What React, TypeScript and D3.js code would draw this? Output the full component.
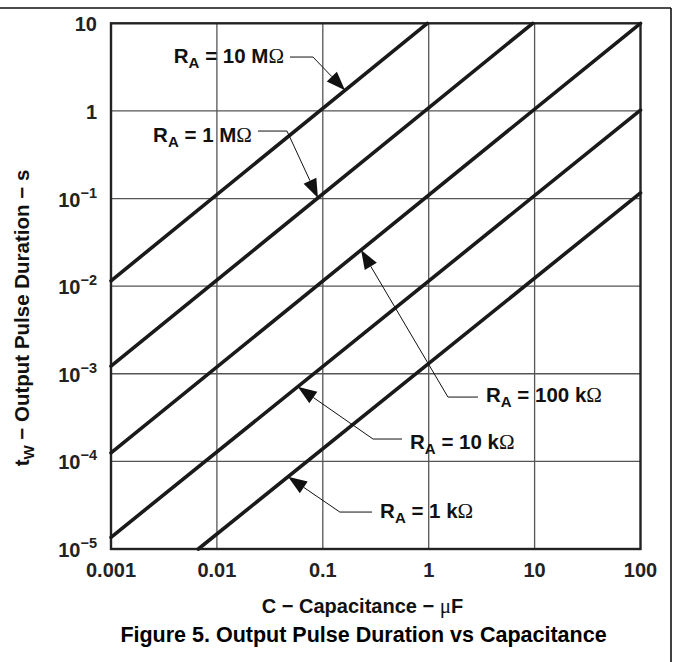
import React from "react";
import * as d3 from "d3";

// ---- data ----
const xTicks = [0.001, 0.01, 0.1, 1, 10, 100];
const xTickLabels = ["0.001", "0.01", "0.1", "1", "10", "100"];
const yTicks = [1e-5, 1e-4, 1e-3, 1e-2, 1e-1, 1, 10];
const yTickBase = ["10", "10", "10", "10", "10", "1", "10"];
const yTickExp = ["−5", "−4", "−3", "−2", "−1", "", ""];

const seriesNames = ["10 MΩ", "1 MΩ", "100 kΩ", "10 kΩ", "1 kΩ"];
const lineStartC = [0.001, 0.001, 0.001, 0.001, 0.00667];
const lineStartT = [0.0115, 0.00122, 0.000125, 0.0000136, 0.00001];
const lineEndC = [0.97, 9.6, 100, 100, 100];
const lineEndT = [10, 10, 10, 1.02, 0.116];

// annotation anchors (data coordinates)
const tipC = [0.162, 0.09, 0.23, 0.058, 0.047];
const elbowC = [0.0808, 0.0459, 1.52, 0.298, 0.145];
const elbowT = [4.12, 0.589, 0.000542, 0.00018, 0.0000264];
const leaderEndC = [0.049, 0.0244, 2.92, 0.56, 0.292];
const labelSide = ["left", "left", "right", "right", "right"];
const labelBaselineT = [3.55, 0.4416, 0.000475, 0.000138, 0.0000225];

const W = 673;
const H = 662;
const left = 111;
const right = 640.5;
const top = 23.3;
const bottom = 549;

const FONT = "'Liberation Sans', Arial, Helvetica, sans-serif";
const SYM = "'Liberation Serif', 'DejaVu Serif', serif";

export default function App() {
  const x = d3.scaleLog().domain([0.001, 100]).range([left, right]);
  const y = d3.scaleLog().domain([1e-5, 10]).range([bottom, top]);
  const line = d3
    .line<[number, number]>()
    .x((d) => x(d[0]))
    .y((d) => y(d[1]));

  const tipT = (i: number, c: number) => {
    const lc0 = Math.log10(lineStartC[i]);
    const lc1 = Math.log10(lineEndC[i]);
    const lt0 = Math.log10(lineStartT[i]);
    const lt1 = Math.log10(lineEndT[i]);
    const f = (Math.log10(c) - lc0) / (lc1 - lc0);
    return Math.pow(10, lt0 + f * (lt1 - lt0));
  };

  return (
    <svg
      width={W}
      height={H}
      style={{ position: "absolute", left: 0, top: 0, background: "#fff" }}
      fontFamily={FONT}
      fontWeight="bold"
    >
      <rect x={0} y={0} width={W} height={H} fill="#fff" />
      {/* outer frame */}
      <line x1={0} y1={8} x2={671} y2={8} stroke="#111" strokeWidth={1.6} />
      <line x1={671} y1={8} x2={671} y2={H} stroke="#111" strokeWidth={1.6} />

      {/* grid */}
      {xTicks.slice(1, -1).map((t) => (
        <line key={"gx" + t} x1={x(t)} x2={x(t)} y1={top} y2={bottom} stroke="#555" strokeWidth={1.3} />
      ))}
      {yTicks.slice(1, -1).map((t) => (
        <line key={"gy" + t} x1={left} x2={right} y1={y(t)} y2={y(t)} stroke="#555" strokeWidth={1.3} />
      ))}
      <rect x={left} y={top} width={right - left} height={bottom - top} fill="none" stroke="#222" strokeWidth={2.4} />

      {/* data lines */}
      {seriesNames.map((n, i) => (
        <path
          key={n}
          d={line([
            [lineStartC[i], lineStartT[i]],
            [lineEndC[i], lineEndT[i]],
          ]) as string}
          fill="none"
          stroke="#1a1a1a"
          strokeWidth={3.6}
          strokeLinecap="round"
        />
      ))}

      {/* annotations */}
      {seriesNames.map((n, i) => {
        const tx = x(tipC[i]);
        const ty = y(tipT(i, tipC[i]));
        const ex = x(elbowC[i]);
        const ey = y(elbowT[i]);
        const lx = x(leaderEndC[i]);
        const dx = tx - ex;
        const dy = ty - ey;
        const len = Math.hypot(dx, dy);
        const ux = dx / len;
        const uy = dy / len;
        const aL = 19;
        const aW = 7;
        const bx = tx - ux * aL;
        const by = ty - uy * aL;
        const pts = [
          [tx, ty],
          [bx - uy * aW, by + ux * aW],
          [bx + uy * aW, by - ux * aW],
        ]
          .map((p) => p.join(","))
          .join(" ");
        const isLeft = labelSide[i] === "left";
        const textX = isLeft ? lx - 6 : lx + 8;
        const [val, unit] = n.split(" ");
        const pre = unit.slice(0, -1);
        return (
          <g key={"a" + n}>
            <polyline
              points={`${lx},${ey} ${ex},${ey} ${bx},${by}`}
              fill="none"
              stroke="#111"
              strokeWidth={1}
            />
            <polygon points={pts} fill="#111" />
            <text
              x={textX}
              y={y(labelBaselineT[i])}
              fontSize={20.5}
              textAnchor={isLeft ? "end" : "start"}
              fill="#111"
            >
              R
              <tspan fontSize={15} dy={5}>A</tspan>
              <tspan dy={-5}>{` = ${val} ${pre}`}</tspan>
              <tspan fontFamily={SYM} fontWeight="normal" fontSize={21}>Ω</tspan>
            </text>
          </g>
        );
      })}

      {/* x tick labels */}
      {xTicks.map((t, i) => (
        <text key={"xl" + t} x={x(t)} y={bottom + 28} fontSize={20} textAnchor="middle" fill="#222">
          {xTickLabels[i]}
        </text>
      ))}
      {/* y tick labels */}
      {yTicks.map((t, i) => (
        <text key={"yl" + t} x={97} y={y(t) + 8} fontSize={20} textAnchor="end" fill="#222">
          {yTickBase[i]}
          {yTickExp[i] ? (
            <tspan fontSize={14.5} dy={-9}>{yTickExp[i]}</tspan>
          ) : null}
        </text>
      ))}

      {/* axis titles */}
      <text x={362.5} y={613} fontSize={20} textAnchor="middle" fill="#111">
        C − Capacitance −{" "}
        <tspan fontFamily={SYM} fontWeight="normal" fontSize={21}>μ</tspan>F
      </text>
      <text transform={`translate(29, 318) rotate(-90)`} fontSize={20.5} textAnchor="middle" fill="#111">
        t<tspan fontSize={15} dy={5}>W</tspan>
        <tspan dy={-5}> − Output Pulse Duration − s</tspan>
      </text>
      <text x={363.5} y={642} fontSize={21.5} textAnchor="middle" fill="#000">
        Figure 5. Output Pulse Duration vs Capacitance
      </text>
    </svg>
  );
}
